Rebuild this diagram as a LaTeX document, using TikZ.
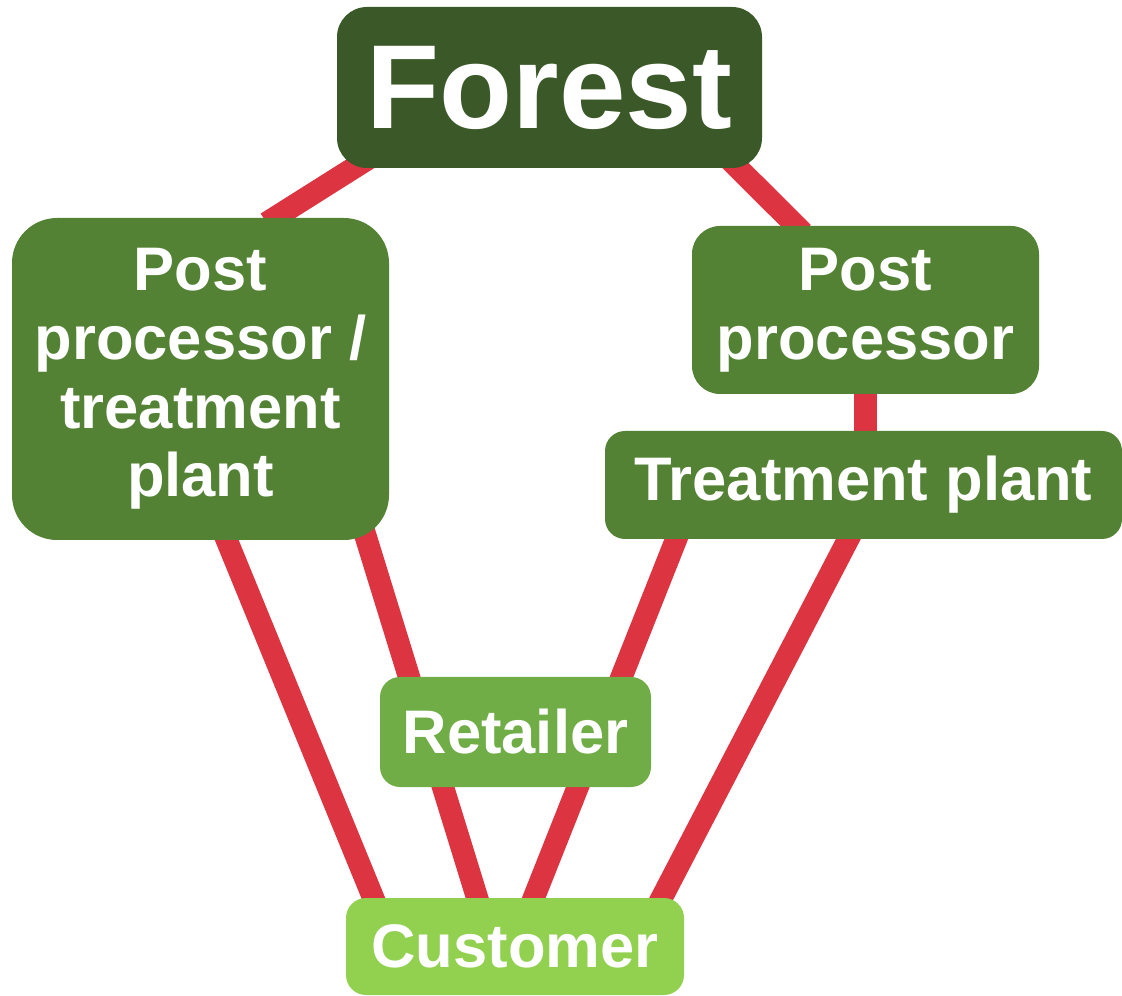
\documentclass[tikz,border=0pt]{standalone}
\usepackage{fontspec}
\setmainfont{Liberation Sans}
\usetikzlibrary{calc,backgrounds}
\definecolor{forestgreen}{RGB}{59,89,40}
\definecolor{midgreen}{RGB}{84,130,53}
\definecolor{retailgreen}{RGB}{112,173,71}
\definecolor{custgreen}{RGB}{146,208,80}
\definecolor{linkred}{RGB}{220,52,64}

\tikzset{
    stage/.style={rectangle, inner sep=0pt, align=center, text=white,
        font=\bfseries\fontsize{17.5}{19.5}\selectfont},
    link/.style={draw=linkred, line width=6.3pt, shorten <=-3pt, shorten >=-3pt},
}

\begin{document}
\begin{tikzpicture}
    \useasboundingbox (0,0) rectangle (11.22,9.95);

    \node[stage,fill=forestgreen,rounded corners=0.3cm,minimum width=4.25cm,
        minimum height=1.61cm,font=\bfseries\fontsize{34}{36}\selectfont]
        (forest) at (5.495,9.075) {Forest};

    \node[stage,fill=midgreen,rounded corners=0.45cm,minimum width=3.77cm,
        minimum height=3.22cm] (ppt) at (2.005,6.16)
        {Post\\processor /\\treatment\\plant};

    \node[stage,fill=midgreen,rounded corners=0.28cm,minimum width=3.47cm,
        minimum height=1.68cm] (pp) at (8.655,6.85) {Post\\processor};
    \node[stage,fill=midgreen,rounded corners=0.2cm,minimum width=5.17cm,
        minimum height=1.08cm] (tp) at (8.635,5.10) {Treatment plant};

    \node[stage,fill=retailgreen,rounded corners=0.2cm,minimum width=2.71cm,
        minimum height=1.10cm] (retailer) at (5.155,2.63) {Retailer};
    \node[stage,fill=custgreen,rounded corners=0.2cm,minimum width=3.38cm,
        minimum height=0.97cm] (customer) at (5.15,0.485) {Customer};

    \begin{scope}[on background layer]
        \path[link] ($(ppt.north)+(0.75,0)$) edge 
            ($(forest.south west)+(0.4,0.15)$);
        \path[link] ($(pp.north)+(-0.7,0)$) edge 
            ($(forest.south east)+(-0.42,0.18)$);
        \path[link] (pp.south) edge (pp.south |- tp.north);

        \path[link] ($(ppt.south)+(0.265,0)$) edge ($(customer.north)+(-1.42,0)$);
        \path[link] ($(ppt.south)+(1.665,0)$) edge ($(customer.north)+(-0.38,0)$);
        \path[link] ($(tp.south)+(-1.875,0)$) edge ($(customer.north)+(0.19,0)$);
        \path[link] ($(tp.south)+(-0.155,0)$) edge ($(customer.north)+(1.47,0)$);
    \end{scope}
\end{tikzpicture}
\end{document}
